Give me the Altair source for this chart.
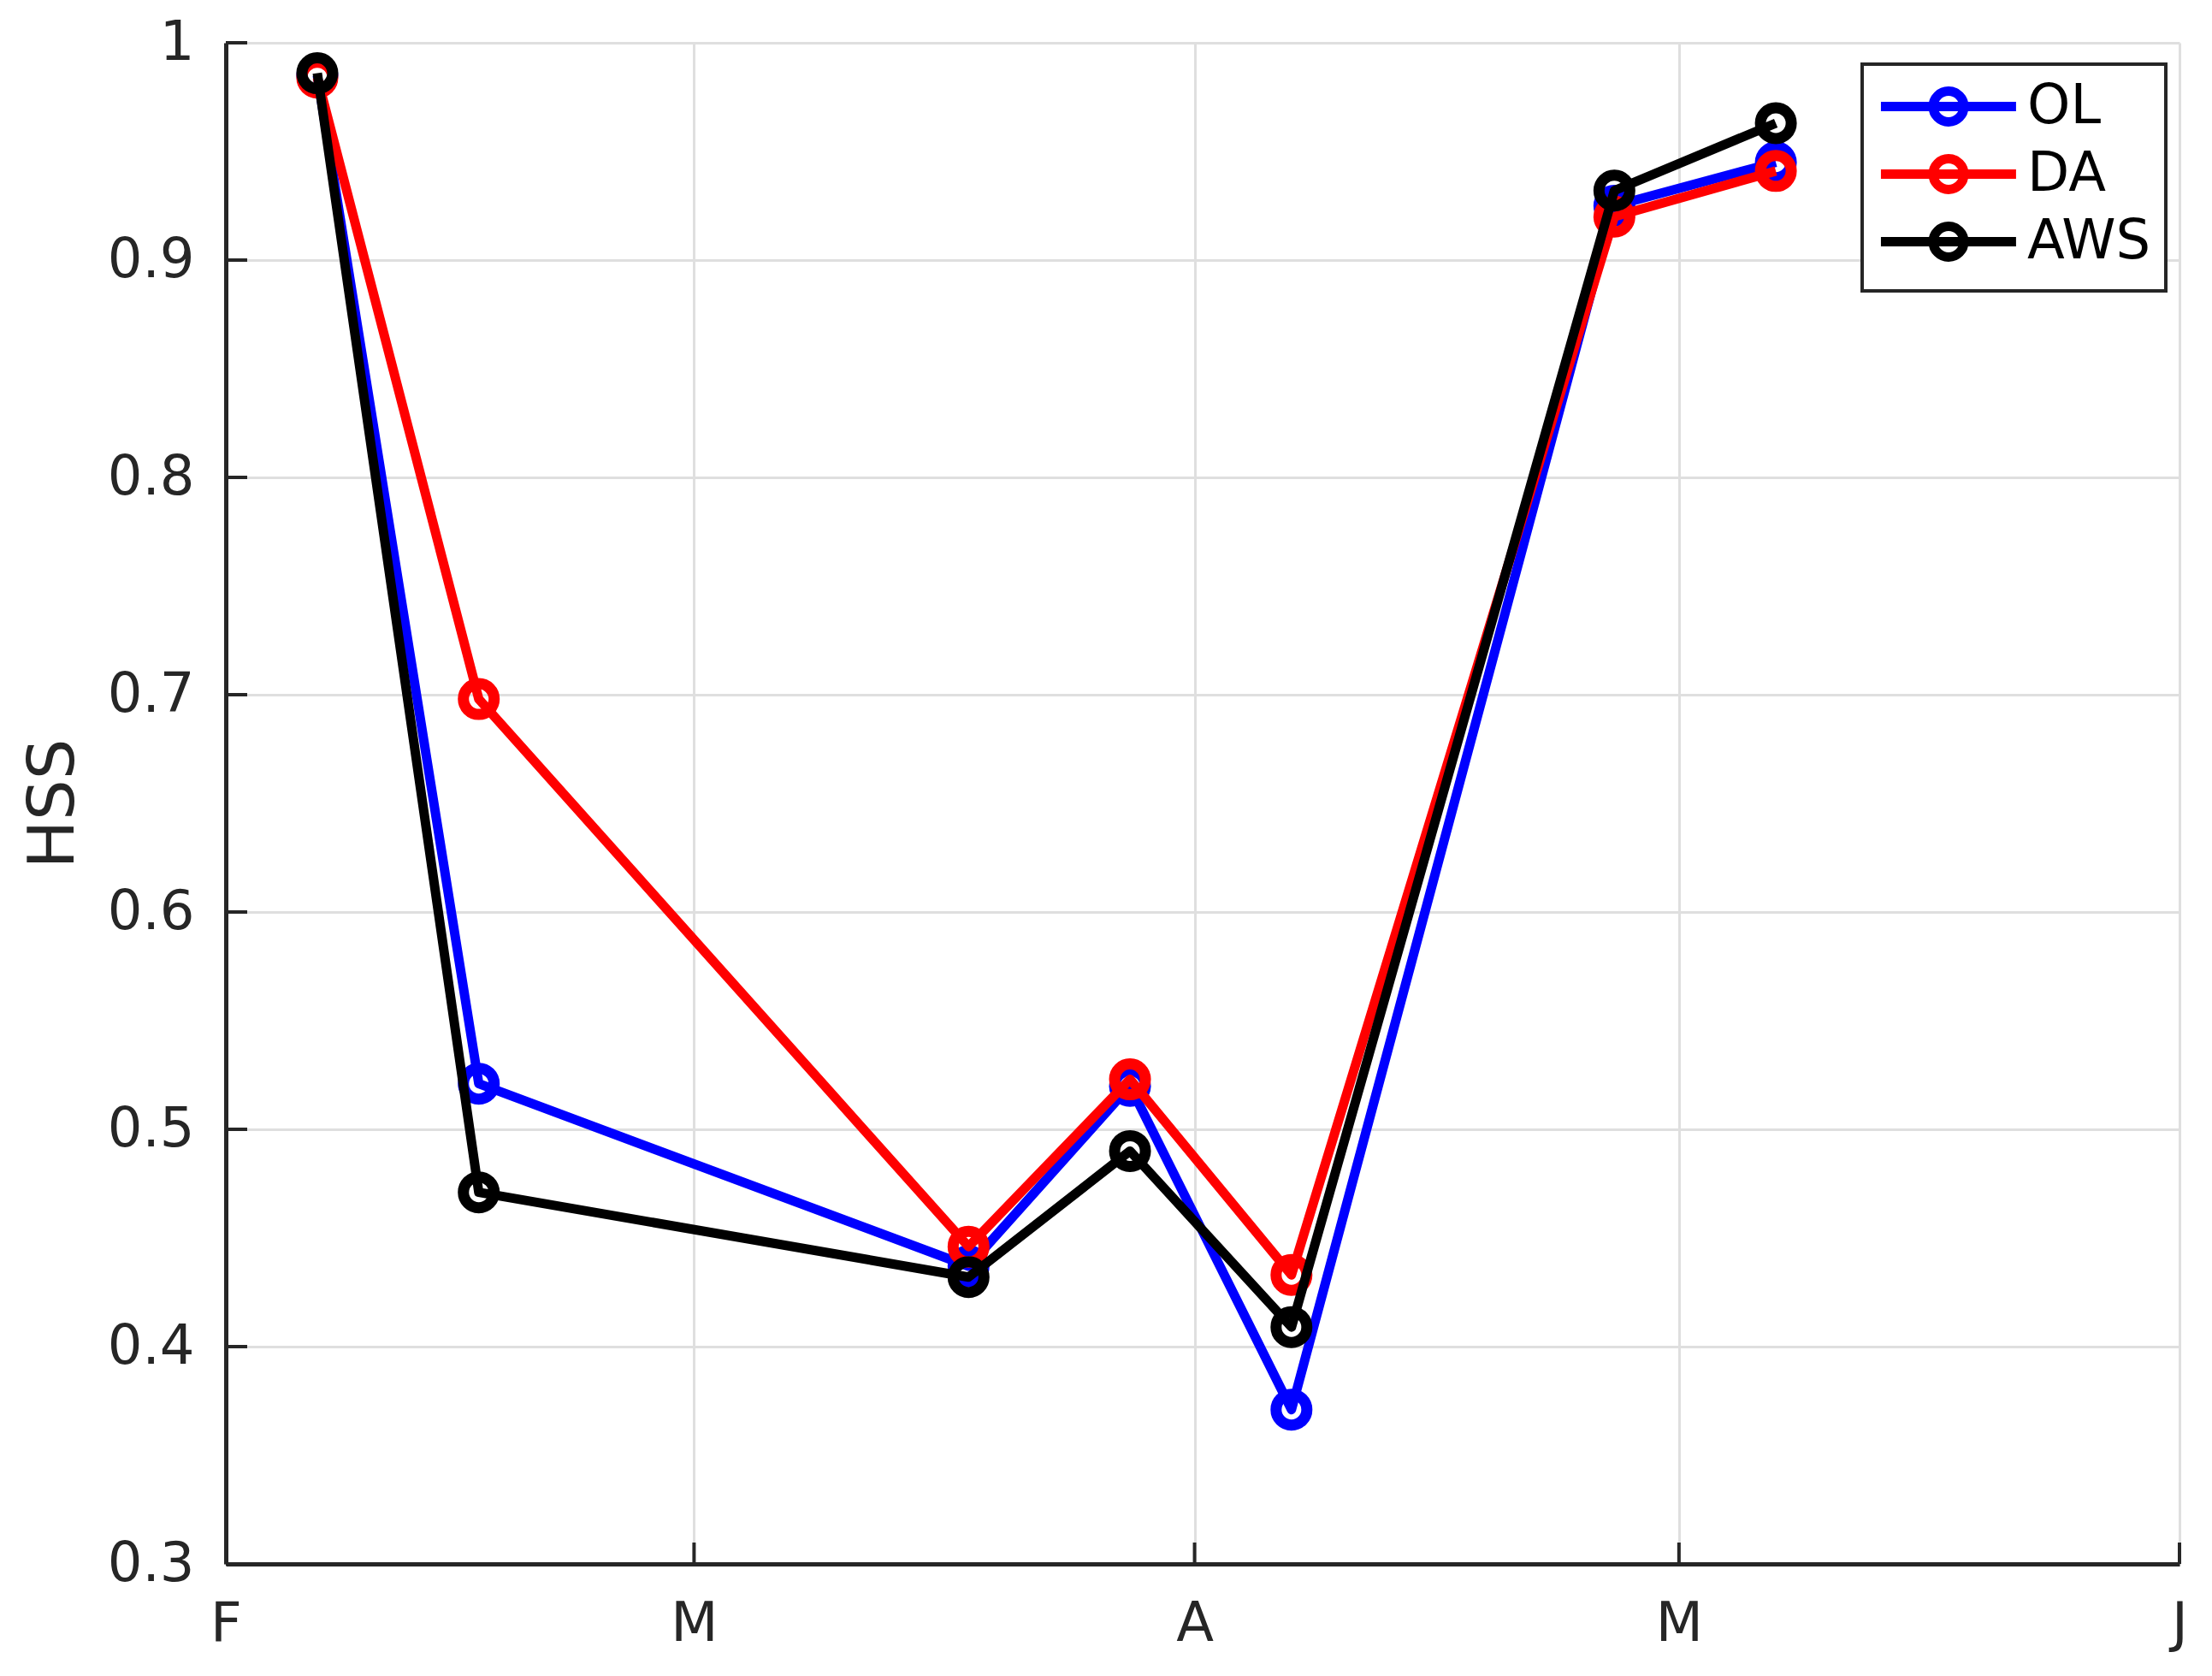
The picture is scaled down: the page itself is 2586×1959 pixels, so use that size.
import json
import altair as alt
import pandas as pd

# ---------------- data ----------------
dates = [
    "2020-02-06T16:00:00Z", "2020-02-16T16:00:00Z", "2020-03-18T00:00:00Z",
    "2020-03-28T00:00:00Z", "2020-04-07T00:00:00Z", "2020-04-27T00:00:00Z",
    "2020-05-07T00:00:00Z",
]
series_names = ["OL", "DA", "AWS"]
series_colors = ["#0000ff", "#ff0000", "#000000"]
ol_values = [0.985, 0.521, 0.437, 0.520, 0.371, 0.925, 0.945]
da_values = [0.984, 0.698, 0.446, 0.523, 0.433, 0.920, 0.941]
aws_values = [0.986, 0.471, 0.432, 0.490, 0.409, 0.932, 0.963]

month_ticks = ["2020-02-01T00:00:00Z", "2020-03-01T00:00:00Z", "2020-04-01T00:00:00Z",
               "2020-05-01T00:00:00Z", "2020-06-01T00:00:00Z"]
month_labels = ["F", "M", "A", "M", "J"]
y_ticks = [0.3, 0.4, 0.5, 0.6, 0.7, 0.8, 0.9, 1.0]
y_title = "HSS"

# ---------------- styling ----------------
W, H = 2284, 1778
TICK = 25
INK = "#262626"
GRID = "#dfdfdf"
FONT = "DejaVu Sans"
LINE_W = 11
PT_W = 13
PT_SIZE = 36 * 36

rows = []
for name, vals in zip(series_names, [ol_values, da_values, aws_values]):
    for d, v in zip(dates, vals):
        rows.append({"date": d, "hss": v, "series": name})
df = pd.DataFrame(rows)

tick_ms = [int(pd.Timestamp(t).value // 10**6) for t in month_ticks]

x_scale = alt.Scale(type="utc", domain=[tick_ms[0], tick_ms[-1]])
y_scale = alt.Scale(domain=[y_ticks[0], y_ticks[-1]], nice=False, zero=False)

label_expr = f"{json.dumps(month_labels)}[indexof({json.dumps(tick_ms)}, +datum.value)]"

x_axis = alt.Axis(
    values=tick_ms, labelExpr=label_expr, title=None,
    grid=True, gridColor=GRID, gridWidth=3,
    domainColor=INK, domainWidth=5, ticks=False, tickSize=0,
    labelFontSize=64, labelColor=INK, labelFont=FONT, labelPadding=38,
    labelFlush=False, labelOverlap=False,
)
y_axis = alt.Axis(
    values=y_ticks, format="~g", title=y_title,
    titleFontSize=75, titleFontWeight="normal", titleColor=INK, titleFont=FONT,
    titleX=-179, titleY=H / 2, titleAngle=270, titleAlign="center",
    titleBaseline="alphabetic",
    grid=True, gridColor=GRID, gridWidth=3,
    domainColor=INK, domainWidth=5, ticks=False, tickSize=0,
    labelFontSize=64, labelColor=INK, labelFont=FONT, labelPadding=37,
    labelOverlap=False,
)

# legend symbol: a line with an open circle; unit = sqrt(symbolSize)/2 = 27 px,
# drawn to the right of the symbol anchor so it stays inside the legend frame
LEG_PATH = ("M-1.02,0L4.83,0M1.24,0A0.667,0.667,0,1,1,2.574,0"
            "A0.667,0.667,0,1,1,1.24,0Z")
legend = alt.Legend(
    title=None, orient="none", legendX=1913, legendY=25,
    symbolType=LEG_PATH, symbolSize=54 * 54, symbolStrokeWidth=LINE_W,
    symbolFillColor="transparent",
    labelFontSize=64, labelColor="black", labelFont=FONT, labelOffset=111,
    rowPadding=-2, padding=17, strokeColor=INK, fillColor="white",
)

x_enc = alt.X("date:T", scale=x_scale, axis=x_axis)
y_enc = alt.Y("hss:Q", scale=y_scale, axis=y_axis)
color_enc = alt.Color("series:N", scale=alt.Scale(domain=series_names, range=series_colors),
                      legend=legend)

layers = []
for name in series_names:
    base = alt.Chart(df).transform_filter(alt.datum.series == name)
    layers.append(base.mark_line(strokeWidth=LINE_W, strokeJoin="round").encode(
        x=x_enc, y=y_enc, color=color_enc))
    layers.append(base.mark_point(shape="circle", filled=False, size=PT_SIZE,
                                  strokeWidth=PT_W, opacity=1).encode(
        x=x_enc, y=y_enc, color=color_enc))

# inward ticks
xt = alt.Chart(pd.DataFrame({"date": month_ticks})).mark_rule(color=INK, strokeWidth=4).encode(
    x=x_enc, y=alt.value(H), y2=alt.value(H - TICK))
yt = alt.Chart(pd.DataFrame({"hss": y_ticks})).mark_rule(color=INK, strokeWidth=4).encode(
    y=y_enc, x=alt.value(0), x2=alt.value(TICK))

chart = alt.layer(xt, yt, *layers).properties(
    width=W, height=H,
    autosize=alt.AutoSizeParams(type="none"),
    padding={"left": 256, "top": 42, "right": 30, "bottom": 120},
).configure(font=FONT).configure_view(stroke="transparent").configure_legend(strokeWidth=4)

chart.save("out.html", embed_options={"renderer": "svg", "actions": False})
